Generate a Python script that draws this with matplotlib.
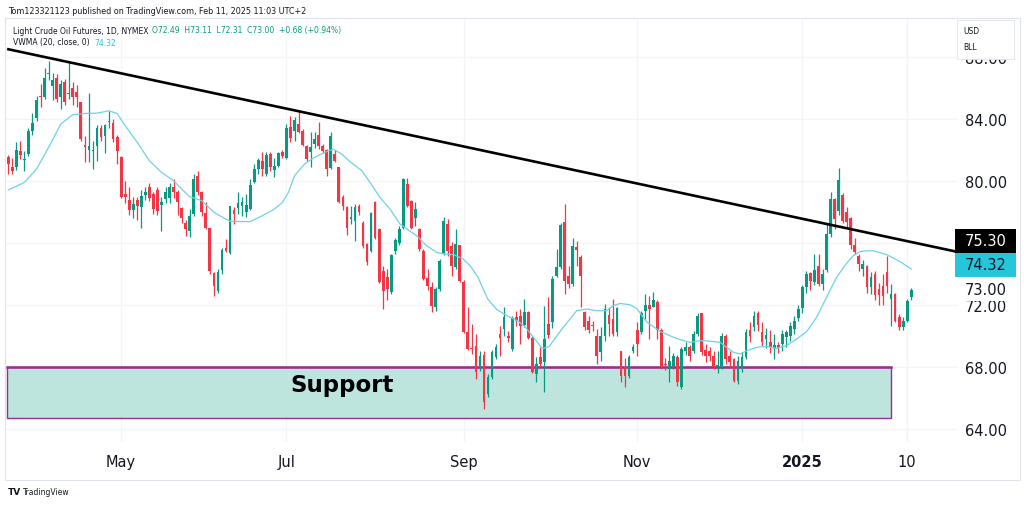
import numpy as np
import matplotlib
matplotlib.use('Agg')
import matplotlib.pyplot as plt
from matplotlib.patches import Rectangle

# daily candles, bar 0 = 21 Mar 2024 ... bar 224 = 11 Feb 2025
opens = [81.52, 80.88, 80.88, 81.95, 81.37, 81.74, 83.20, 84.06, 85.50, 85.40,
         86.90, 86.15, 86.68, 85.40, 86.40, 85.60, 86.00, 85.72, 85.07, 82.34,
         82.02, 81.95, 82.23, 83.42, 82.88, 83.82, 83.74, 82.82, 81.52, 79.16,
         78.79, 78.15, 78.79, 78.34, 79.10, 79.63, 79.16, 79.44, 78.47, 78.84,
         78.90, 79.63, 79.31, 78.25, 77.29, 76.80, 77.87, 80.30, 79.27, 77.93,
         77.00, 74.06, 72.90, 74.28, 75.68, 75.35, 78.13, 78.24, 78.40, 77.98,
         78.20, 79.96, 80.77, 81.30, 80.45, 81.74, 80.73, 80.99, 81.90, 81.50,
         83.50, 83.25, 83.68, 83.25, 82.28, 81.85, 82.40, 82.97, 82.28, 82.02,
         80.82, 81.74, 80.88, 79.00, 78.30, 77.55, 77.44, 78.37, 77.27, 75.94,
         75.50, 78.62, 76.90, 74.21, 73.78, 72.81, 75.50, 76.00, 77.00, 79.80,
         78.73, 77.59, 76.90, 75.50, 73.74, 73.14, 71.90, 73.03, 75.29, 77.22,
         75.82, 74.43, 75.86, 73.50, 70.28, 69.25, 69.33, 68.08, 68.77, 66.25,
         67.33, 68.62, 70.10, 70.45, 70.00, 69.16, 71.20, 71.30, 70.70, 71.52,
         69.90, 67.55, 68.62, 68.34, 70.77, 70.88, 73.90, 74.43, 77.38, 73.89,
         73.35, 75.72, 75.08, 71.53, 70.99, 70.72, 70.02, 68.95, 70.02, 71.35,
         71.10, 70.28, 69.00, 68.00, 67.44, 69.05, 70.41, 70.28, 71.63, 72.02,
         71.85, 72.22, 70.41, 68.20, 67.87, 68.09, 68.63, 66.69, 69.06, 69.27,
         69.06, 70.13, 71.46, 69.10, 69.06, 68.73, 68.00, 68.09, 70.02, 68.73,
         68.52, 67.12, 68.09, 68.62, 70.41, 70.56, 71.46, 70.24, 69.80, 69.63,
         69.20, 69.40, 69.48, 69.92, 70.02, 70.45, 71.14, 71.78, 73.14, 74.07,
         73.50, 74.54, 73.36, 74.28, 76.58, 78.84, 78.09, 79.10, 77.98, 77.59,
         75.87, 75.14, 74.32, 74.50, 73.14, 74.00, 73.03, 73.20, 74.10, 72.39,
         72.71, 71.20, 70.56, 70.95, 72.49]
highs = [81.70, 81.50, 82.50, 82.60, 81.95, 83.40, 84.40, 85.50, 86.26, 87.29,
         87.76, 87.00, 86.90, 86.50, 86.60, 87.70, 86.40, 86.20, 85.10, 82.90,
         85.70, 82.60, 83.60, 83.60, 83.70, 84.50, 84.00, 83.00, 81.60, 80.00,
         79.60, 79.00, 79.00, 79.40, 79.60, 79.90, 79.30, 79.60, 79.00, 79.60,
         79.90, 80.13, 79.40, 78.30, 77.50, 78.20, 80.45, 80.67, 79.38, 78.62,
         77.00, 74.10, 74.30, 75.70, 76.26, 78.40, 78.30, 79.30, 78.95, 79.16,
         80.13, 81.10, 81.50, 81.85, 81.85, 81.85, 81.50, 81.85, 82.00, 83.68,
         84.20, 84.10, 84.54, 83.35, 82.30, 83.14, 83.14, 83.78, 82.40, 82.06,
         83.14, 82.00, 80.90, 79.10, 78.40, 78.40, 78.50, 78.50, 77.40, 76.00,
         78.00, 78.73, 77.00, 74.53, 74.32, 75.30, 76.30, 77.10, 80.20, 80.17,
         78.80, 78.62, 77.00, 75.60, 74.32, 73.46, 73.14, 75.00, 77.65, 77.55,
         76.04, 76.90, 75.90, 73.60, 71.85, 70.77, 70.13, 69.05, 69.05, 67.55,
         69.10, 69.50, 70.66, 71.85, 70.35, 71.30, 71.63, 71.74, 72.38, 71.60,
         70.00, 68.62, 69.27, 71.95, 72.50, 73.90, 75.61, 77.30, 78.50, 74.50,
         76.30, 76.15, 75.20, 71.60, 71.30, 71.00, 70.45, 70.56, 72.07, 71.85,
         72.39, 71.85, 69.00, 68.60, 68.80, 69.50, 70.88, 71.60, 72.70, 72.60,
         72.86, 72.30, 70.50, 68.60, 69.38, 68.90, 68.80, 69.30, 69.60, 69.40,
         70.30, 71.46, 71.50, 69.50, 69.30, 69.00, 69.00, 70.20, 70.10, 69.00,
         68.60, 68.73, 68.95, 70.45, 70.90, 71.60, 71.60, 70.88, 70.50, 70.40,
         70.13, 69.60, 70.40, 70.40, 70.90, 71.30, 72.00, 73.30, 74.20, 74.10,
         75.30, 75.30, 74.30, 77.20, 79.30, 78.90, 80.82, 79.20, 78.30, 77.70,
         76.30, 75.30, 74.90, 74.60, 74.10, 74.20, 73.40, 74.00, 75.18, 73.36,
         72.80, 71.40, 71.20, 72.40, 73.11]
lows = [80.45, 80.45, 80.70, 81.40, 80.66, 81.60, 83.00, 83.90, 84.75, 85.30,
        86.50, 85.20, 85.10, 84.64, 84.90, 85.30, 84.90, 84.80, 82.60, 81.20,
        81.20, 80.77, 81.30, 82.60, 81.80, 83.40, 82.50, 81.10, 78.90, 78.60,
        77.80, 77.60, 77.50, 76.97, 78.80, 78.70, 77.90, 77.80, 76.80, 78.60,
        78.60, 78.90, 77.80, 77.30, 76.47, 76.40, 77.76, 79.10, 77.76, 76.90,
        74.00, 72.60, 72.80, 74.00, 75.40, 75.30, 77.20, 77.87, 77.76, 77.66,
        78.10, 79.90, 80.45, 80.35, 80.35, 80.67, 80.24, 80.88, 81.50, 81.45,
        82.50, 82.60, 83.10, 82.28, 81.30, 80.88, 82.10, 82.06, 81.80, 80.35,
        80.77, 81.20, 78.60, 78.10, 76.50, 77.20, 76.15, 77.80, 75.70, 74.60,
        75.40, 76.25, 73.40, 71.74, 72.30, 72.70, 75.30, 75.90, 76.90, 78.30,
        76.90, 77.10, 75.50, 73.60, 73.00, 71.52, 71.63, 72.90, 75.20, 75.18,
        73.89, 74.32, 73.50, 70.20, 69.10, 68.83, 67.22, 67.76, 65.30, 66.04,
        67.20, 68.50, 68.73, 70.00, 69.60, 69.00, 70.66, 69.50, 70.56, 69.80,
        67.60, 67.00, 67.98, 66.36, 69.90, 70.50, 73.79, 74.30, 72.71, 73.10,
        73.25, 74.50, 71.85, 70.40, 70.20, 70.30, 68.20, 68.40, 69.70, 70.02,
        70.02, 70.02, 67.00, 66.70, 67.30, 68.90, 68.73, 70.10, 71.10, 69.80,
        71.85, 69.80, 67.90, 67.80, 67.01, 67.90, 66.80, 66.60, 68.80, 68.40,
        68.90, 70.00, 68.80, 68.30, 68.40, 67.90, 67.60, 67.90, 68.20, 68.00,
        67.00, 66.90, 67.70, 68.50, 69.60, 70.30, 70.30, 69.38, 69.20, 68.90,
        68.52, 68.90, 69.00, 69.30, 69.70, 70.10, 71.00, 71.50, 72.80, 73.00,
        73.30, 73.20, 73.00, 74.10, 76.40, 76.90, 77.80, 77.30, 77.00, 75.60,
        75.30, 74.20, 73.90, 72.80, 72.70, 72.30, 72.00, 72.00, 72.80, 70.67,
        70.90, 70.40, 70.40, 70.90, 72.31]
closes = [81.09, 80.66, 82.00, 81.67, 81.45, 83.20, 83.74, 85.22, 85.40, 86.68,
          87.00, 86.51, 85.29, 86.26, 85.07, 85.67, 85.44, 85.44, 82.71, 82.17,
          82.23, 82.00, 83.42, 82.86, 83.61, 83.89, 82.71, 81.95, 78.99, 78.94,
          78.15, 78.51, 78.36, 79.01, 79.27, 78.90, 78.19, 78.04, 78.66, 79.27,
          79.59, 79.31, 78.66, 77.61, 76.90, 77.76, 80.13, 79.30, 77.98, 77.00,
          74.20, 73.25, 74.10, 75.55, 75.50, 78.37, 77.87, 78.56, 78.62, 78.45,
          79.74, 80.77, 81.35, 80.77, 81.68, 80.88, 80.99, 81.80, 81.60, 83.40,
          82.80, 83.96, 83.18, 82.34, 81.42, 82.17, 82.70, 82.28, 81.91, 80.77,
          82.92, 81.31, 78.67, 78.40, 77.00, 77.66, 78.30, 77.98, 75.83, 74.75,
          77.94, 76.30, 73.46, 72.92, 73.03, 75.22, 76.21, 76.90, 80.12, 78.40,
          77.00, 78.19, 75.61, 73.67, 73.20, 71.95, 73.03, 74.86, 77.44, 75.50,
          74.53, 75.93, 73.57, 70.28, 69.16, 69.15, 67.65, 68.73, 65.72, 67.33,
          68.99, 69.30, 69.90, 71.20, 69.85, 71.14, 70.98, 70.66, 71.52, 69.90,
          67.65, 68.19, 68.19, 69.80, 70.08, 73.67, 74.43, 77.18, 73.57, 73.35,
          75.83, 75.57, 73.85, 70.56, 70.41, 70.66, 68.73, 70.02, 71.74, 70.77,
          70.13, 71.79, 67.40, 67.44, 68.62, 69.27, 69.48, 71.48, 72.02, 71.74,
          72.34, 70.41, 68.00, 68.10, 68.41, 68.69, 67.01, 69.16, 69.27, 68.73,
          70.13, 71.27, 68.95, 68.73, 68.73, 68.00, 68.13, 70.00, 68.52, 68.30,
          67.12, 68.40, 68.62, 70.28, 70.02, 71.31, 70.70, 69.59, 70.06, 69.27,
          69.40, 69.20, 70.13, 70.24, 70.67, 70.95, 71.74, 73.14, 74.00, 73.57,
          74.28, 73.36, 74.00, 76.58, 78.84, 77.55, 80.09, 77.44, 77.33, 75.87,
          75.44, 74.65, 74.65, 73.18, 73.79, 72.65, 72.65, 72.56, 73.20, 72.71,
          70.99, 70.56, 70.99, 72.28, 73.00]

# VWMA(20): bar position -> value
vwma_bar = [0, 4, 7, 10, 13, 16, 19, 22, 25, 27, 29, 32, 35, 38, 41, 43, 45, 48, 51, 55,
            60, 63, 66, 68, 69.5, 71, 73.5, 76, 78.5, 80.6, 82.7, 85, 87.7, 90, 92.2, 94.7,
            97.2, 98.9, 101.3, 103.8, 106.3, 108.3, 110.4, 112.7, 114.6, 116.5, 118.9, 121.2,
            123.7, 126.5, 128.2, 130.3, 132.5, 134.1, 135.5, 137.5, 141, 143.5, 146, 148.4,
            150.1, 151.8, 154.2, 155.9, 158.4, 161.7, 165, 167.5, 169.1, 171.6, 174.1, 176.6,
            178.2, 179.9, 181.5, 183.2, 185.7, 188.1, 190.6, 193.1, 195.6, 198.1, 200.5, 203,
            205.5, 208, 209.6, 211.3, 213, 214.6, 217.9, 221.2, 224]
vwma_val = [79.42, 79.91, 80.77, 82.17, 83.67, 84.28, 84.36, 84.38, 84.53, 84.36, 83.57,
            82.49, 81.31, 80.56, 80.02, 79.48, 78.99, 78.73, 77.98, 77.40, 77.38, 77.76,
            78.19, 78.62, 79.27, 80.34, 81.10, 81.53, 81.85, 82.06, 81.74, 81.20, 80.67,
            79.81, 78.94, 78.19, 77.22, 76.90, 76.47, 75.82, 75.39, 75.29, 75.25, 75.00,
            74.53, 73.80, 72.40, 71.70, 71.31, 70.95, 70.60, 69.90, 69.20, 69.30, 69.80,
            70.50, 71.63, 71.74, 71.63, 71.63, 71.96, 72.10, 72.02, 71.78, 70.90, 70.30,
            69.92, 69.70, 69.59, 69.70, 69.66, 69.59, 69.27, 68.95, 68.84, 69.05, 69.27,
            69.33, 69.20, 69.38, 69.81, 70.30, 71.20, 72.50, 73.80, 74.70, 75.18, 75.44,
            75.50, 75.50, 75.25, 74.80, 74.32]

# drawn trendline end points (bar, price)
trend_bar = [-0.3, 235.6]
trend_val = [88.52, 75.42]

# support zone
zone_bar = [-0.2, 219.0]
zone_val = [64.71, 68.00]

month_bar = [28, 69, 113, 156, 197, 223]
month_lbl = ['May', 'Jul', 'Sep', 'Nov', '2025', '10']
price_ticks = [64, 68, 72, 76, 80, 84, 88]
price_lbls = ['64.00', '68.00', '72.00', '', '80.00', '84.00', '88.00']

UP = '#089981'
DN = '#f23645'
TXT = '#131722'

W, H = 1024, 506
def fx(px):
    return px / W
def fy(py):
    return 1 - py / H

fig = plt.figure(figsize=(10.24, 5.06), dpi=100)
fig.patch.set_facecolor('white')
ax = fig.add_axes([fx(5), fy(443), fx(958) - fx(5), fy(19) - fy(443)])

o = np.array(opens)
h = np.array(highs)
l = np.array(lows)
c = np.array(closes)
x = np.arange(len(c))
col = np.where(c >= o, UP, DN)

# support box
ax.add_patch(Rectangle((zone_bar[0], zone_val[0]), zone_bar[1] - zone_bar[0],
                       zone_val[1] - zone_val[0], fc='#bde5dd', ec='#9b2d8e',
                       lw=1.0, zorder=1))
ax.plot(zone_bar, [zone_val[1], zone_val[1]], color='#9b2d8e', lw=1.8, zorder=1.5)
ax.text(82.8, 66.9, 'Support', fontsize=16.5, fontweight='bold', color='black',
        ha='center', va='center', zorder=6)

# candles
ax.vlines(x, l, h, colors=col, lw=0.9, zorder=3)
body_lo = np.minimum(o, c)
body_h = np.maximum(np.abs(c - o), 0.07)
ax.bar(x, body_h, bottom=body_lo, width=0.68, color=col, lw=0, zorder=4)

ax.plot(vwma_bar, vwma_val, color='#6dd3e4', lw=0.9, zorder=5)
ax.plot(trend_bar, trend_val, color='black', lw=1.9, solid_capstyle='butt', zorder=6)

ax.set_xlim(-0.82, 235.6)
ax.set_ylim(63.16, 90.52)
ax.set_xticks(month_bar)
ax.set_xticklabels(month_lbl)
ax.get_xticklabels()[4].set_fontweight('bold')
ax.set_yticks(price_ticks)
ax.set_yticklabels(price_lbls)
ax.yaxis.tick_right()
ax.tick_params(axis='x', length=0, pad=8.5, labelsize=10.5, labelcolor=TXT)
ax.tick_params(axis='y', length=0, pad=5, labelsize=10.5, labelcolor=TXT)
ax.grid(color='#f2f4f8', lw=0.9)
ax.set_axisbelow(True)
for s in ax.spines.values():
    s.set_visible(False)

# outer frame
fig.add_artist(Rectangle((fx(5), fy(481)), fx(1020) - fx(5), fy(19) - fy(481),
                         transform=fig.transFigure, fill=False, ec='#e0e3eb', lw=0.8))

# price labels on the right scale
def price_box(y0, y1, fc, txt, tc):
    fig.add_artist(Rectangle((fx(955), fy(y1)), fx(1016) - fx(955), fy(y0) - fy(y1),
                             transform=fig.transFigure, fc=fc, ec='none', zorder=5))
    fig.text(fx(986), fy((y0 + y1) / 2), txt, color=tc, fontsize=10.5,
             ha='center', va='center', zorder=6)

price_box(279, 302, 'white', '73.00', TXT)
price_box(230, 254, 'black', '75.30', 'white')
price_box(254, 278, '#26c6da', '74.32', TXT)

# currency / unit box, hides the top of the 88.00 label
fig.add_artist(Rectangle((fx(957), fy(60)), fx(1014) - fx(957), fy(21) - fy(60),
                         transform=fig.transFigure, fc='white', ec='#e0e3eb',
                         lw=0.6, zorder=5))
fig.text(fx(963), fy(31), 'USD', fontsize=5.5, color=TXT, va='center', zorder=6)
fig.text(fx(963), fy(48), 'BLL', fontsize=5.5, color=TXT, va='center', zorder=6)

# header and legend
fig.text(fx(8), fy(12), 'Tom123321123 published on TradingView.com, Feb 11, 2025 11:03 UTC+2',
         fontsize=5.8, color=TXT, va='center')
fig.text(fx(13), fy(31), 'Light Crude Oil Futures, 1D, NYMEX', fontsize=5.5,
         color=TXT, va='center')
fig.text(fx(152), fy(31), 'O72.49  H73.11  L72.31  C73.00  +0.68 (+0.94%)',
         fontsize=5.5, color=UP, va='center')
fig.text(fx(13), fy(43), 'VWMA (20, close, 0)', fontsize=5.5, color=TXT, va='center')
fig.text(fx(94), fy(43), '74.32', fontsize=5.5, color='#26c6da', va='center')

fig.text(fx(8), fy(493), 'TV', fontsize=6.5, fontweight='bold', color=TXT, va='center')
fig.text(fx(23), fy(493), 'TradingView', fontsize=5.5, color=TXT, va='center')

fig.savefig('out.png', dpi=100)
